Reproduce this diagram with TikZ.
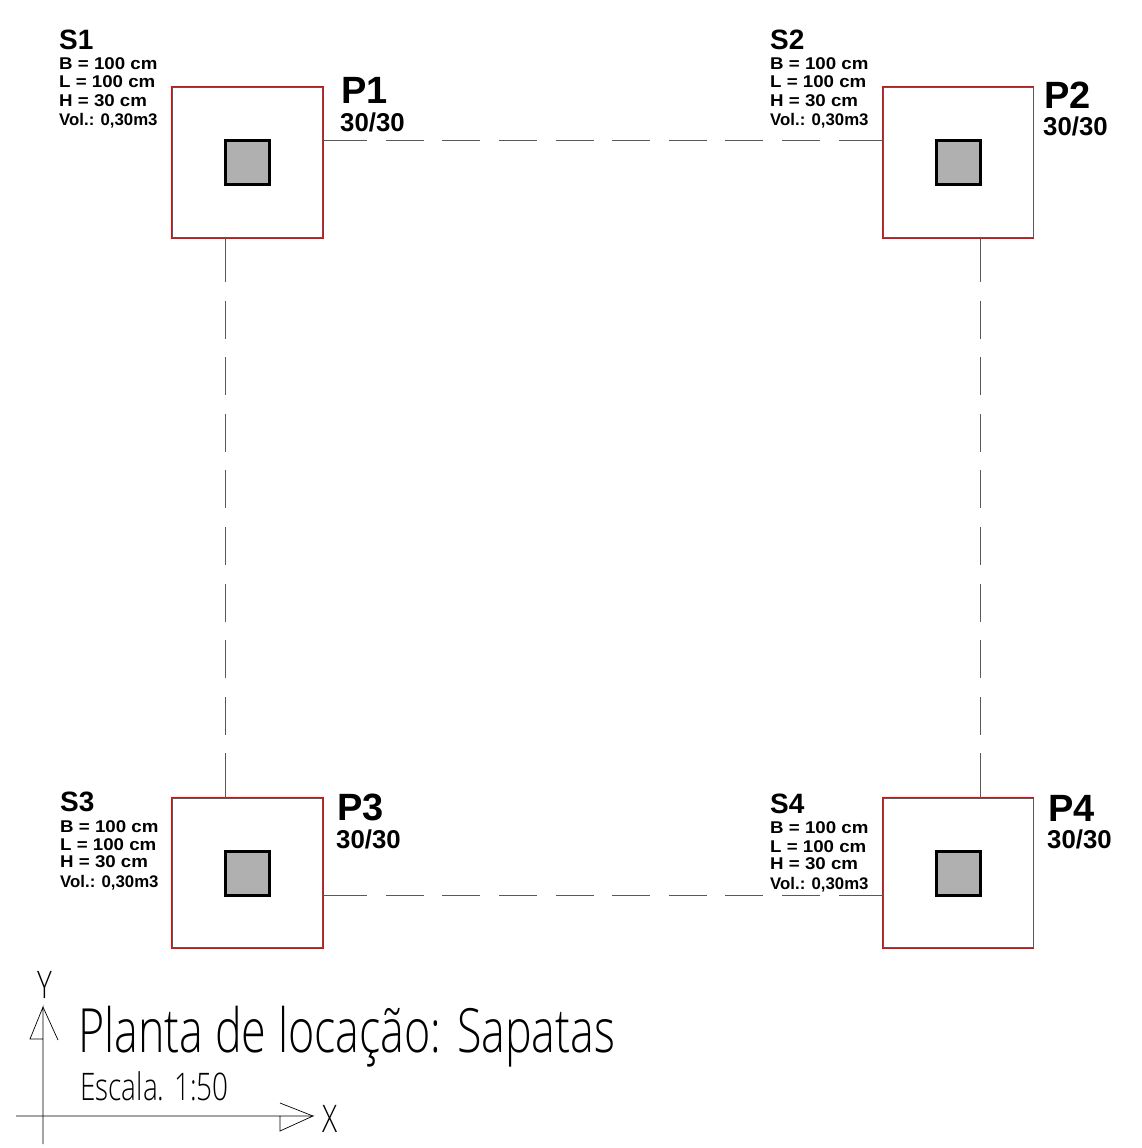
\documentclass[tikz,border=0pt]{standalone}
\usepackage{fontspec}
\setmainfont{Liberation Sans}
\newfontfamily\titulofont[FakeStretch=0.735]{Open Sans Light}
\usetikzlibrary{calc}

\tikzset{
  sapata/.style={rectangle,draw=red,line width=1.3pt,minimum size=151pt,inner sep=0pt,outer sep=0pt},
  sapatain/.style={rectangle,draw=black!65,line width=0.7pt,minimum size=149.6pt,inner sep=0pt,outer sep=0pt},
  pilar/.style={rectangle,draw=black,fill=black!31,line width=2.8pt,minimum size=44.3pt,inner sep=0pt,outer sep=0pt},
  viga/.style={draw=black!65,line width=0.9pt,dash pattern=on 44pt off 18.6pt on 38pt off 18.6pt on 38pt off 18.6pt on 38pt off 18.6pt on 38pt off 18.6pt on 38pt off 18.6pt on 38pt off 18.6pt on 38pt off 18.6pt on 38pt off 18.6pt on 46pt off 4pt},
  eixo/.style={draw=black,line width=0.7pt},
  txt/.style={anchor=base west,inner sep=0pt},
  nomeS/.style={txt,font=\bfseries\fontsize{28}{30}\selectfont},
  nomeP/.style={txt,font=\bfseries\fontsize{38}{40}\selectfont},
  secao/.style={txt,font=\bfseries\fontsize{25.8}{27}\selectfont},
  dado/.style={txt,font=\bfseries\fontsize{17}{18}\selectfont\addfontfeatures{FakeStretch=1.1}},
  vol/.style={txt,font=\bfseries\fontsize{16.8}{18}\selectfont},
  titulo/.style={txt,font=\titulofont\fontsize{61}{64}\selectfont},
  escala/.style={txt,font=\titulofont\fontsize{38}{42}\selectfont},
}

\begin{document}
\begin{tikzpicture}[x=1pt,y=-1pt]
\useasboundingbox (0,0) rectangle (1141,1148);

% Sapatas
\node[sapata] at (247.6,162.5) (s1) {};
\node[sapata] at (958.2,162.5) (s2) {};
\node[sapata] at (247.6,873) (s3) {};
\node[sapata] at (958.2,873) (s4) {};
\node[sapatain] at (247.6,162.5) (s1i) {};
\node[sapatain] at (958.2,162.5) (s2i) {};
\node[sapatain] at (247.6,873) (s3i) {};
\node[sapatain] at (958.2,873) (s4i) {};

% Pilares
\node[pilar] at (247.5,162.5) (p1) {};
\node[pilar] at (958.3,162.5) (p2) {};
\node[pilar] at (247.5,873.3) (p3) {};
\node[pilar] at (958.3,873.3) (p4) {};

% Vigas
\draw[viga] (s1.east |- p1.north) -- (s2.west |- p1.north);
\draw[viga] (s3.east |- p3.south) -- (s4.west |- p3.south);
\draw[viga] (p1.west |- s1.south) -- (p1.west |- s3.north);
\draw[viga] (p2.east |- s2.south) -- (p2.east |- s4.north);

% S1
\node[nomeS] at (59,49) (ts1) {S1};
\node[dado] at (59,70) (b1) {B = 100 cm};
\node[dado] at (59,88) (l1) {L = 100 cm};
\node[dado] at (59,106) (h1) {H = 30 cm};
\node[vol] at (59,125) (v1) {Vol.: 0,30m3};
% S2
\node[nomeS] at (770,49) (ts2) {S2};
\node[dado] at (770,70) (b2) {B = 100 cm};
\node[dado] at (770,88) (l2) {L = 100 cm};
\node[dado] at (770,106) (h2) {H = 30 cm};
\node[vol] at (770,125) (v2) {Vol.: 0,30m3};
% S3
\node[nomeS] at (60,811) (ts3) {S3};
\node[dado] at (60,832) (b3) {B = 100 cm};
\node[dado] at (60,850) (l3) {L = 100 cm};
\node[dado] at (60,867) (h3) {H = 30 cm};
\node[vol] at (60,887) (v3) {Vol.: 0,30m3};
% S4
\node[nomeS] at (770,813) (ts4) {S4};
\node[dado] at (770,833) (b4) {B = 100 cm};
\node[dado] at (770,852) (l4) {L = 100 cm};
\node[dado] at (770,869) (h4) {H = 30 cm};
\node[vol] at (770,889) (v4) {Vol.: 0,30m3};

% P
\node[nomeP] at (341,103) (tp1) {P1};
\node[secao] at (340,131) (c1) {30/30};
\node[nomeP] at (1044,108) (tp2) {P2};
\node[secao] at (1043,135) (c2) {30/30};
\node[nomeP] at (337,820) (tp3) {P3};
\node[secao] at (336,848) (c3) {30/30};
\node[nomeP] at (1048,821) (tp4) {P4};
\node[secao] at (1047,848) (c4) {30/30};

% Titulo
\node[titulo] at (78,1052) (tit) {Planta de locação: Sapatas};
\node[escala] at (80,1100) (esc) {Escala. 1:50};

% Eixos
\coordinate (ox) at (16,1116);
\coordinate (fx) at (313,1116);
\coordinate (oy) at (43,1144);
\coordinate (fy) at (43,1007);
\draw[eixo] (ox) -- (fx) -- (280,1131) -- (280,1116);
\draw[eixo] (fx) -- (280,1103);
\draw[eixo] (oy) -- (fy) -- (30,1039) -- (43,1039);
\draw[eixo] (fy) -- (58,1040);
\node[escala] at (322,1132) (ex) {X};
\node[escala] at (37,998) (ey) {Y};

\end{tikzpicture}
\end{document}
